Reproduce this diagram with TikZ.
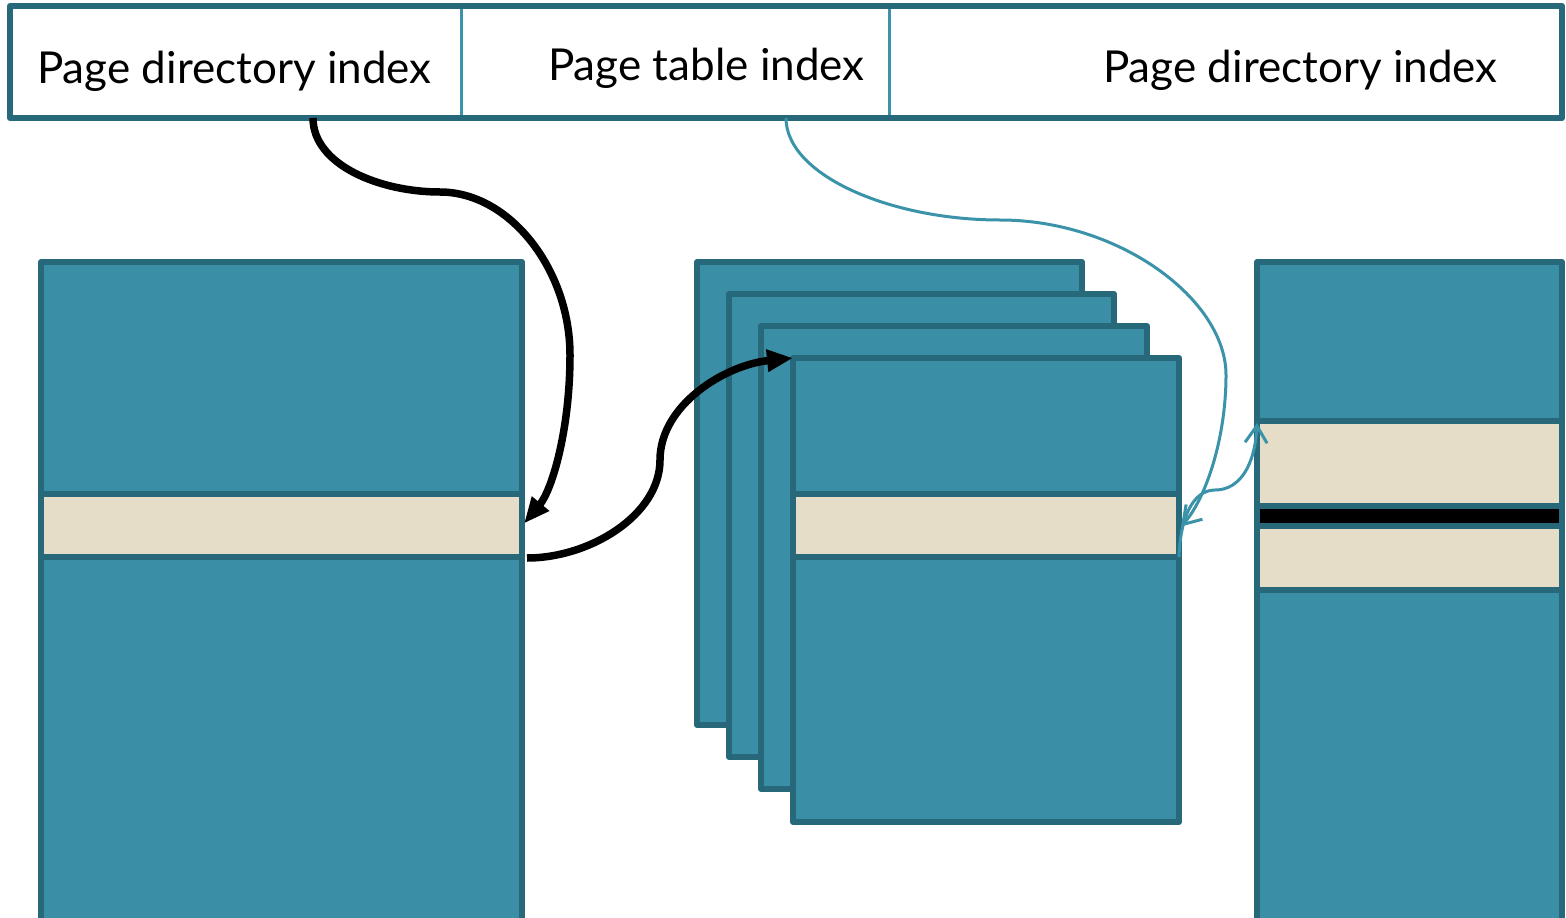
\documentclass[tikz,border=0pt]{standalone}
\usepackage{fontspec}
\setmainfont{Lato}
\usetikzlibrary{arrows.meta}
\definecolor{tealfill}{HTML}{3A8FA6}
\definecolor{tealedge}{HTML}{27697A}
\definecolor{tealline}{HTML}{3A93A8}
\definecolor{beige}{HTML}{E5DDC8}
\tikzset{
  box/.style={draw=tealedge, line width=6pt, line join=round, inner sep=0pt,
    outer sep=0pt, anchor=north west},
  tbl/.style={box, fill=tealfill},
  band/.style={box, fill=beige},
  field/.style={draw=tealline, line width=3pt, inner sep=0pt, outer sep=0pt,
    anchor=north west, minimum height=112pt},
  label/.style={anchor=base west, inner sep=0pt, font=\fontsize{44}{53}\selectfont},
  ptr/.style={line width=7.5pt, -{Triangle[length=26pt,width=21pt]}},
  thinptr/.style={draw=tealline, line width=3pt, -{Straight Barb[length=17pt,width=22pt]}},
}
\begin{document}
\begin{tikzpicture}[x=1pt,y=-1pt]
\useasboundingbox (0,0) rectangle (1566,918);
\clip (0,0) rectangle (1566,918);

% address fields
\node[field, minimum width=451pt] (f1) at (10,6) {};
\node[field, minimum width=428pt] (f2) at (461,6) {};
\node[field, minimum width=673pt] (f3) at (889,6) {};
\draw[tealedge, line width=6pt, line join=round] (f1.north west) rectangle (f3.south east);
\node[label] (t1) at (37,83) {Page directory index};
\node[label] (t2) at (548,80) {Page table index};
\node[label] (t3) at (1103,82) {Page directory index};

% page directory
\node[tbl, minimum width=481pt, minimum height=700pt] (L) at (41,262) {};
\node[band, minimum width=481pt, minimum height=63pt] (LB) at (41,494) {};

% stack of page tables
\node[tbl, minimum width=385pt, minimum height=463pt] (P1) at (697,262) {};
\node[tbl, minimum width=385pt, minimum height=463pt] (P2) at (729,294) {};
\node[tbl, minimum width=386pt, minimum height=463pt] (P3) at (761,326) {};
\node[tbl, minimum width=386pt, minimum height=464pt] (P4) at (793,358) {};
\node[band, minimum width=386pt, minimum height=63pt] (PB) at (793,494) {};

% physical page
\node[tbl, minimum width=305pt, minimum height=700pt] (R) at (1257,262) {};
\node[band, minimum width=305pt, minimum height=85pt] (RB1) at (1257,421) {};
\node[box, fill=black, minimum width=305pt, minimum height=20pt] (RK) at (1257,506) {};
\node[band, minimum width=305pt, minimum height=64pt] (RB2) at (1257,526) {};

% pointer coordinates on the address bar
\coordinate (s1) at (313,118);
\coordinate (s2) at (786,118);

% pointers
\draw[ptr] (s1) .. controls (313,165) and (380,192) .. (440,192)
  .. controls (510,192) and (570,270) .. (570,355)
  .. controls (570,430) and (552,490) .. ([xshift=2pt,yshift=2pt]LB.east);
\draw[ptr] ([xshift=5pt,yshift=-1pt]LB.south east) .. controls (590,558) and (660,515) .. (660,460)
  .. controls (660,405) and (725,365) .. (P4.north west);
\draw[thinptr] (s2) .. controls (786,175) and (890,220) .. (1000,220)
  .. controls (1120,220) and (1226,300) .. (1226,375)
  .. controls (1226,440) and (1205,500) .. ([xshift=2pt,yshift=-1pt]PB.east);
\draw[thinptr] (PB.south east) .. controls (1180,520) and (1192,490) .. (1215,490)
  .. controls (1240,490) and (1255,465) .. ([yshift=-2pt]RB1.north west);
\end{tikzpicture}
\end{document}
